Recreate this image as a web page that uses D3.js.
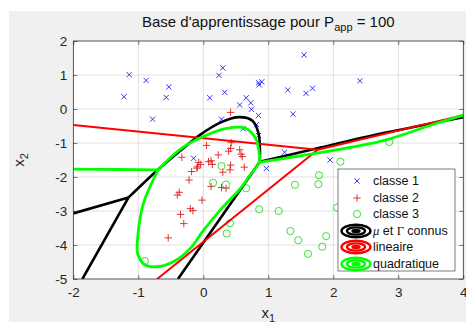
<!DOCTYPE html>
<html>
<head>
<meta charset="utf-8">
<script src="https://cdn.jsdelivr.net/npm/d3@7"></script>
<style>
  body { margin: 0; background: #fff; }
  svg { display: block; font-family: "Liberation Sans", Arial, sans-serif; }
</style>
</head>
<body>
<div id="chart"></div>
<script>
// training points, [x1, x2]
var classe1 = [[-1.14, 1.01], [-0.88, 0.84], [-0.53, 0.65], [-1.22, 0.36], [-0.57, 0.34],
    [-0.78, -0.30], [0.24, 0.99], [0.30, 1.21], [0.33, 0.49], [0.10, 0.33], [0.28, -0.30],
    [0.56, 0.12], [0.66, 0.33], [0.73, 0.18], [0.74, -0.01], [0.85, 0.77], [0.90, 0.80],
    [0.86, 0.71], [0.61, -0.58], [0.85, -0.19], [0.82, -0.46], [0.85, -0.78], [1.55, 1.59],
    [1.30, 0.56], [1.58, 0.46], [1.68, 0.61], [1.38, -0.15], [2.41, 0.83], [1.25, -1.27],
    [1.95, -1.50], [0.97, -1.75], [-0.15, -1.45]];

var classe2 = [[0.42, -0.10], [0.05, -1.07], [0.43, -0.99], [0.42, -1.16], [0.56, -1.20],
    [0.58, -1.33], [0.60, -1.40], [0.39, -1.24], [0.23, -1.35], [-0.33, -1.42], [0.12, -1.52],
    [0.08, -1.55], [0.14, -1.63], [-0.07, -1.57], [-0.04, -1.63], [-0.09, -1.70], [0.42, -1.65],
    [0.41, -1.79], [0.63, -1.71], [-0.10, -1.74], [-0.18, -1.84], [0.30, -1.86], [-0.22, -2.09],
    [0.12, -2.28], [0.28, -2.31], [0.35, -2.33], [-0.37, -2.45], [-0.40, -2.53], [-0.02, -2.68],
    [-0.20, -2.93], [-0.16, -2.99], [-0.35, -3.10], [-0.30, -3.37], [-0.54, -3.79]];

var classe3 = [[2.11, -1.55], [1.78, -1.95], [1.77, -2.21], [1.41, -2.23], [0.86, -2.95],
    [1.16, -3.00], [2.06, -2.90], [1.34, -3.59], [1.46, -3.86], [1.89, -3.74], [1.83, -4.05],
    [1.61, -4.26], [2.86, -0.97], [0.28, -1.68], [0.15, -2.17], [0.35, -2.22], [0.66, -2.33],
    [0.41, -3.36], [0.36, -3.66], [-0.90, -4.47]];

// decision boundaries, black = mu et Gamma connus
var bayesLeft = [[-2, -3.07], [-1.15, -2.6]];
var bayesDown = [[-1.15, -2.6], [-1.86, -5]];
var bayesCurve = [[-1.15, -2.6], [-0.69, -1.77], [-0.35, -1.22], [-0.05, -0.76], [0.26, -0.40],
    [0.55, -0.24], [0.76, -0.35], [0.85, -0.72], [0.87, -1.16], [0.87, -1.55]];
var bayesLower = [[0.87, -1.55], [-0.39, -5]];
var bayesRight = [[0.87, -1.55], [1.74, -1.16], [2.77, -0.71], [4, -0.24]];

// red = lineaire
var linLeft = [[-2, -0.47], [1.76, -1.20]];
var linRight = [[1.76, -1.20], [4, -0.18]];
var linDown = [[1.76, -1.20], [-0.71, -5]];

// green = quadratique
var quadLeft = [[-2, -1.77], [-1.3, -1.78], [-0.69, -1.79]];
var quadEllipse = [[-0.69, -1.79], [-0.33, -1.15], [0, -0.81], [0.36, -0.57], [0.64, -0.56],
    [0.8, -0.85], [0.86, -1.3], [0.86, -1.57], [0.72, -1.94], [0.56, -2.36], [0.27, -2.95],
    [0, -3.58], [-0.2, -4.1], [-0.45, -4.48], [-0.7, -4.64], [-0.9, -4.58], [-1.01, -4.25],
    [-1.01, -3.8], [-0.92, -2.77], [-0.72, -1.89]];
var quadRight = [[0.86, -1.57], [1.74, -1.30], [2.77, -0.93], [3.59, -0.42], [4, -0.18]];

var xTicks = [-2, -1, 0, 1, 2, 3, 4];
var yTicks = [-5, -4, -3, -2, -1, 0, 1, 2];

var width = 466, height = 322;
var plotLeft = 73.3, plotRight = 463.3, plotTop = 41, plotBottom = 279;

var svg = d3.select("#chart")
    .append("svg")
    .attr("width", width)
    .attr("height", height);

// figure background
svg.append("rect")
    .attr("x", 9).attr("y", 11)
    .attr("width", width - 9).attr("height", height - 11)
    .attr("fill", "#f0f0f0");

svg.append("rect")
    .attr("x", plotLeft).attr("y", plotTop)
    .attr("width", plotRight - plotLeft).attr("height", plotBottom - plotTop)
    .attr("fill", "#fff");

var x = d3.scaleLinear().domain([-2, 4]).range([plotLeft, plotRight]);
var y = d3.scaleLinear().domain([-5, 2]).range([plotBottom, plotTop]);

// grid
svg.append("g").selectAll("line")
    .data(xTicks)
    .enter()
    .append("line")
    .attr("x1", function(d) { return x(d); })
    .attr("x2", function(d) { return x(d); })
    .attr("y1", plotTop).attr("y2", plotBottom)
    .attr("stroke", "#dfdfdf")
    .attr("stroke-width", 1);

svg.append("g").selectAll("line")
    .data(yTicks)
    .enter()
    .append("line")
    .attr("y1", function(d) { return y(d); })
    .attr("y2", function(d) { return y(d); })
    .attr("x1", plotLeft).attr("x2", plotRight)
    .attr("stroke", "#dfdfdf")
    .attr("stroke-width", 1);

svg.append("clipPath")
    .attr("id", "plotclip")
    .append("rect")
    .attr("x", plotLeft).attr("y", plotTop)
    .attr("width", plotRight - plotLeft).attr("height", plotBottom - plotTop);

var plot = svg.append("g").attr("clip-path", "url(#plotclip)");

// markers
plot.append("g").selectAll("path")
    .data(classe1)
    .enter()
    .append("path")
    .attr("d", function(d) {
        var cx = x(d[0]), cy = y(d[1]), s = 2.6;
        return "M" + (cx - s) + "," + (cy - s) + "L" + (cx + s) + "," + (cy + s) +
               "M" + (cx - s) + "," + (cy + s) + "L" + (cx + s) + "," + (cy - s);
    })
    .attr("stroke", "#2020f0")
    .attr("stroke-width", 0.9)
    .attr("fill", "none");

plot.append("g").selectAll("path")
    .data(classe2)
    .enter()
    .append("path")
    .attr("d", function(d) {
        var cx = x(d[0]), cy = y(d[1]), s = 3.7;
        return "M" + (cx - s) + "," + cy + "L" + (cx + s) + "," + cy +
               "M" + cx + "," + (cy - s) + "L" + cx + "," + (cy + s);
    })
    .attr("stroke", "#e02020")
    .attr("stroke-width", 0.9)
    .attr("fill", "none");

plot.append("g").selectAll("circle")
    .data(classe3)
    .enter()
    .append("circle")
    .attr("cx", function(d) { return x(d[0]); })
    .attr("cy", function(d) { return y(d[1]); })
    .attr("r", 3.6)
    .attr("stroke", "#22dd22")
    .attr("stroke-width", 0.9)
    .attr("fill", "none");

// boundaries
var straight = d3.line()
    .x(function(d) { return x(d[0]); })
    .y(function(d) { return y(d[1]); });
var smooth = d3.line()
    .x(function(d) { return x(d[0]); })
    .y(function(d) { return y(d[1]); })
    .curve(d3.curveCatmullRom.alpha(0.5));
var smoothClosed = d3.line()
    .x(function(d) { return x(d[0]); })
    .y(function(d) { return y(d[1]); })
    .curve(d3.curveCatmullRomClosed.alpha(0.5));

var boundaries = [
    {pts: bayesLeft, gen: straight, color: "#000", w: 2.6},
    {pts: bayesDown, gen: straight, color: "#000", w: 2.6},
    {pts: bayesCurve, gen: smooth, color: "#000", w: 2.6},
    {pts: bayesLower, gen: straight, color: "#000", w: 2.6},
    {pts: bayesRight, gen: smooth, color: "#000", w: 2.6},
    {pts: linLeft, gen: straight, color: "#ff0000", w: 2},
    {pts: linRight, gen: straight, color: "#ff0000", w: 2},
    {pts: linDown, gen: straight, color: "#ff0000", w: 2},
    {pts: quadLeft, gen: smooth, color: "#00ff00", w: 2.8},
    {pts: quadEllipse, gen: smoothClosed, color: "#00ff00", w: 2.8},
    {pts: quadRight, gen: smooth, color: "#00ff00", w: 2.8}
];

plot.append("g").selectAll("path")
    .data(boundaries)
    .enter()
    .append("path")
    .attr("d", function(d) { return d.gen(d.pts); })
    .attr("stroke", function(d) { return d.color; })
    .attr("stroke-width", function(d) { return d.w; })
    .attr("stroke-linejoin", "round")
    .attr("fill", "none");

// axes, matlab style with ticks inside and box
var axisColor = "#262626";
var gx = svg.append("g")
    .attr("transform", "translate(0," + plotBottom + ")")
    .call(d3.axisBottom(x).tickValues(xTicks).tickSize(-4).tickPadding(8));
var gxTop = svg.append("g")
    .attr("transform", "translate(0," + plotTop + ")")
    .call(d3.axisTop(x).tickValues(xTicks).tickSize(-4).tickFormat(""));
var gy = svg.append("g")
    .attr("transform", "translate(" + plotLeft + ",0)")
    .call(d3.axisLeft(y).tickValues(yTicks).tickSize(-4).tickPadding(6));
var gyRight = svg.append("g")
    .attr("transform", "translate(" + plotRight + ",0)")
    .call(d3.axisRight(y).tickValues(yTicks).tickSize(-4).tickFormat(""));

[gx, gxTop, gy, gyRight].forEach(function(g) {
    g.selectAll(".domain").remove();
    g.selectAll("line").attr("stroke", axisColor).attr("stroke-width", 0.6);
    g.selectAll("text")
        .attr("fill", axisColor)
        .attr("font-size", "13.5px")
        .attr("font-family", "Liberation Sans, Arial, sans-serif");
});
gx.selectAll("text").text(function(d) { return d < 0 ? "-" + Math.abs(d) : d; });
gy.selectAll("text").text(function(d) { return d < 0 ? "-" + Math.abs(d) : d; });

svg.append("rect")
    .attr("x", plotLeft).attr("y", plotTop)
    .attr("width", plotRight - plotLeft).attr("height", plotBottom - plotTop)
    .attr("fill", "none")
    .attr("stroke", axisColor)
    .attr("stroke-width", 0.7);

// title
var title = svg.append("text")
    .attr("x", (plotLeft + plotRight) / 2)
    .attr("y", 27)
    .attr("text-anchor", "middle")
    .attr("font-size", "15px")
    .attr("fill", "#111");
title.append("tspan").text("Base d'apprentissage pour P");
title.append("tspan").attr("font-size", "11px").attr("dy", 4).text("app");
title.append("tspan").attr("dy", -4).text(" = 100");

// axis labels
var xlab = svg.append("text")
    .attr("x", (plotLeft + plotRight) / 2)
    .attr("y", 318)
    .attr("text-anchor", "middle")
    .attr("font-size", "15px")
    .attr("fill", axisColor);
xlab.append("tspan").text("x");
xlab.append("tspan").attr("font-size", "11px").attr("dy", 4).text("1");

var ylab = svg.append("text")
    .attr("transform", "translate(24," + (plotTop + plotBottom) / 2 + ") rotate(-90)")
    .attr("text-anchor", "middle")
    .attr("font-size", "15px")
    .attr("fill", axisColor);
ylab.append("tspan").text("x");
ylab.append("tspan").attr("font-size", "11px").attr("dy", 4).text("2");

// legend
var legend = svg.append("g");
legend.append("rect")
    .attr("x", 338).attr("y", 169)
    .attr("width", 117).attr("height", 102)
    .attr("fill", "#fff")
    .attr("stroke", "#262626")
    .attr("stroke-width", 0.6);

var lx = 357, ly = [181, 198, 214, 231, 247, 264];

legend.append("path")
    .attr("d", "M" + (lx - 2.6) + "," + (ly[0] - 2.6) + "l5.2,5.2M" + (lx - 2.6) + "," + (ly[0] + 2.6) + "l5.2,-5.2")
    .attr("stroke", "#2020f0").attr("stroke-width", 0.9);
legend.append("path")
    .attr("d", "M" + (lx - 3.7) + "," + ly[1] + "h7.4M" + lx + "," + (ly[1] - 3.7) + "v7.4")
    .attr("stroke", "#e02020").attr("stroke-width", 0.9);
legend.append("circle")
    .attr("cx", lx).attr("cy", ly[2]).attr("r", 3.6)
    .attr("fill", "none").attr("stroke", "#22dd22").attr("stroke-width", 0.9);

// contour icons: nested ellipses
var contourIcons = [["#000", ly[3]], ["#ff0000", ly[4]], ["#00ff00", ly[5]]];
contourIcons.forEach(function(c) {
    [[14.5, 6.2], [9, 3.6], [3.5, 1]].forEach(function(r) {
        legend.append("ellipse")
            .attr("cx", 356).attr("cy", c[1])
            .attr("rx", r[0]).attr("ry", r[1])
            .attr("fill", "none")
            .attr("stroke", c[0])
            .attr("stroke-width", 2.4);
    });
});

var labels = ["classe 1", "classe 2", "classe 3"];
labels.forEach(function(t, i) {
    legend.append("text")
        .attr("x", 373).attr("y", ly[i])
        .attr("dy", "0.35em")
        .attr("font-size", "12.5px")
        .attr("fill", "#111")
        .text(t);
});

var mu = legend.append("text")
    .attr("x", 373).attr("y", ly[3])
    .attr("dy", "0.35em")
    .attr("font-size", "12.5px")
    .attr("fill", "#111");
mu.append("tspan").attr("font-family", "Liberation Serif, serif").attr("font-style", "italic").text("\u03bc");
mu.append("tspan").text(" et ");
mu.append("tspan").attr("font-family", "Liberation Serif, serif").text("\u0393");
mu.append("tspan").text(" connus");

legend.append("text")
    .attr("x", 373).attr("y", ly[4]).attr("dy", "0.35em")
    .attr("font-size", "12.5px").attr("fill", "#111")
    .text("lineaire");
legend.append("text")
    .attr("x", 373).attr("y", ly[5]).attr("dy", "0.35em")
    .attr("font-size", "12.5px").attr("fill", "#111")
    .text("quadratique");
</script>
</body>
</html>
